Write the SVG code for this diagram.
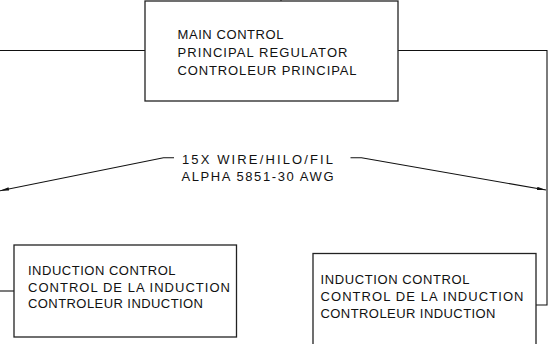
<svg xmlns="http://www.w3.org/2000/svg" width="548" height="344" viewBox="0 0 548 344">
<style>
.box{fill:#fff;stroke:#222;stroke-width:1.3}
.wire{fill:none;stroke:#111;stroke-width:1.1}
.t{font-family:"Liberation Sans",Arial,sans-serif;font-size:13px;fill:#111}
</style>
<defs>
<marker id="arr" viewBox="0 0 9 3.4" markerWidth="9" markerHeight="3.4" refX="9" refY="1.7" orient="auto" markerUnits="userSpaceOnUse">
<path d="M0,0 L9,1.7 L0,3.4 z" fill="#111"/>
</marker>
</defs>
<rect width="548" height="344" fill="#fff"/>
<g id="connectors">
<polyline class="wire" points="0,50.5 145,50.5"/>
<polyline class="wire" points="398,50.5 547,50.5 547,305 536,305"/>
<polyline class="wire" points="0,291 14,291"/>
<polyline class="wire" points="281,-5 281,1"/>
<polyline class="wire" points="174,157.7 163.5,157.7 0,190.7" marker-end="url(#arr)"/>
<polyline class="wire" points="350.5,157.7 361.5,157.7 546,190" marker-end="url(#arr)"/>
</g>
<g id="wire-label">
<text class="t" x="182" y="164" textLength="151" lengthAdjust="spacing">15X WIRE/HILO/FIL</text>
<text class="t" x="181.5" y="181" textLength="152" lengthAdjust="spacing">ALPHA 5851-30 AWG</text>
</g>
<g id="main-control">
<rect class="box" x="145" y="1" width="253" height="100"/>
<text class="t" x="177.5" y="38.5" textLength="106" lengthAdjust="spacing">MAIN CONTROL</text>
<text class="t" x="177.5" y="56.5" textLength="170" lengthAdjust="spacing">PRINCIPAL REGULATOR</text>
<text class="t" x="177.5" y="74.5" textLength="179" lengthAdjust="spacing">CONTROLEUR PRINCIPAL</text>
</g>
<g id="induction-left">
<rect class="box" x="14" y="245" width="222.5" height="92"/>
<text class="t" x="28" y="275" textLength="147.5" lengthAdjust="spacing">INDUCTION CONTROL</text>
<text class="t" x="28" y="291.5" textLength="202" lengthAdjust="spacing">CONTROL DE LA INDUCTION</text>
<text class="t" x="28" y="308" textLength="175" lengthAdjust="spacing">CONTROLEUR INDUCTION</text>
</g>
<g id="induction-right">
<rect class="box" x="313" y="253.5" width="223" height="110"/>
<text class="t" x="320.5" y="283.5" textLength="149" lengthAdjust="spacing">INDUCTION CONTROL</text>
<text class="t" x="320.5" y="300.5" textLength="203" lengthAdjust="spacing">CONTROL DE LA INDUCTION</text>
<text class="t" x="320.5" y="317.5" textLength="175" lengthAdjust="spacing">CONTROLEUR INDUCTION</text>
</g>
</svg>
